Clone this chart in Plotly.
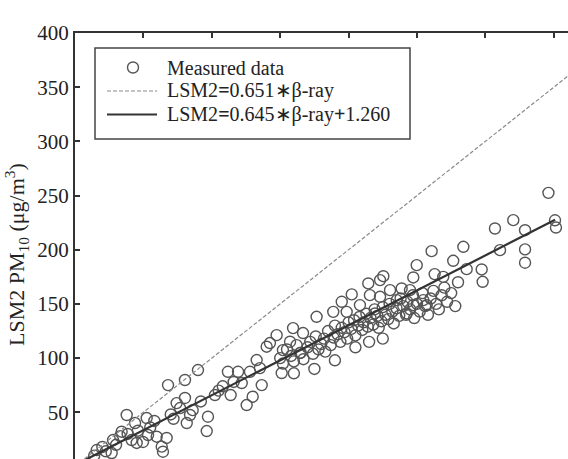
import plotly.graph_objects as go

meas_x = [15.9, 26.8, 27.8, 34.1, 37.8, 43.9, 41.4, 45.1, 52.4, 53.4, 49.7, 59.7, 63.4, 64.3, 67.0,
          68.0, 74.3, 76.8, 80.4, 80.4, 81.7, 84.1, 89.9, 97.2, 96.3, 102.3, 111.8, 113.8, 119.2, 121.9,
          125.5, 129.9, 127.9, 132.8, 136.5, 135.2, 140.1, 142.5, 147.4, 151.1, 152.0, 159.4, 164.5, 166.7, 157.2,
          14.0, 20.0, 22.5, 30.0, 33.0, 38.5, 46.0, 55.0, 58.0, 70.0, 72.0, 86.0, 92.0, 105.0, 108.0, 116.0,
          150, 152, 155, 158, 160, 162, 165, 167, 170, 172, 174, 176, 178, 180, 182, 183, 185, 187, 189, 190,
          192, 194, 195, 197, 199, 200, 202, 204, 205, 207, 208, 210, 211, 213, 214, 216, 218, 219, 221, 222,
          224, 225, 227, 229, 230, 232, 233, 235, 237, 238, 240, 242, 243, 245, 247, 248, 250, 252, 254, 256,
          258, 260, 262, 264, 266, 268, 270, 272, 275, 278, 280, 160, 175, 190, 205, 215, 225,
          346.1, 350.9, 351.6, 329.0, 320.4, 307.0, 310.7, 329.0, 329.0, 297.3, 298.0, 260.7, 283.9, 276.5, 286.3,
          249.8, 262.9, 269.2, 247.3, 225.4, 223.0, 214.4, 230.3, 238.8, 244.9, 202.3, 195.0, 215.6, 208.3, 223.0,
          235.2, 254.6, 257.1, 247.3, 176.6, 188.8, 198.6, 219.3, 242.5]
meas_y = [15.2, 12.4, 24.4, 32.1, 47.5, 40.1, 24.4, 21.7, 44.7, 29.0, 22.6, 27.5, 18.3, 13.6, 26.3,
          75.1, 58.5, 53.9, 79.8, 63.2, 40.1, 47.5, 89.0, 45.9, 32.7, 65.9, 87.4, 65.9, 87.4, 77.0,
          56.7, 64.4, 87.4, 98.2, 75.1, 90.8, 110.5, 113.9, 121.2, 86.2, 107.4, 127.7, 104.6, 123.1, 115.1,
          10.0, 18.0, 14.0, 20.0, 28.0, 30.0, 33.0, 36.0, 42.0, 48.0, 44.0, 52.0, 60.0, 70.0, 74.0, 78.0,
          100, 95, 108, 102, 97, 112, 105, 99, 110, 115, 104, 120, 108, 113, 118, 106, 125, 112, 119, 130,
          122, 115, 128, 124, 118, 133, 127, 135, 121, 130, 138, 126, 133, 141, 129, 137, 131, 145, 139, 128,
          134, 147, 140, 136, 150, 143, 132, 146, 139, 155, 148, 140, 152, 145, 158, 137, 150, 143, 160, 148,
          140, 155, 162, 150, 145, 158, 165, 152, 160, 148, 170, 86, 90, 98, 110, 115, 118,
          252.5, 227.2, 220.5, 218.0, 227.3, 219.6, 199.6, 200.3, 188.0, 181.8, 170.4, 198.7, 202.7, 189.8, 182.1,
          185.8, 177.5, 175.0, 174.4, 175.6, 172.0, 168.9, 162.7, 164.3, 162.7, 158.8, 152.0, 158.1, 148.9, 156.6,
          153.5, 153.5, 148.9, 148.9, 138.1, 142.7, 142.7, 141.2, 141.2]

# Reference line and fitted line
ref_x = [0, 400]
ref_y = [0, 400]
fit_x = [8, 351]
fit_slope = 0.645
fit_intercept = 1.260
fit_y = [fit_slope * v + fit_intercept for v in fit_x]

y_ticks = [50, 100, 150, 200, 250, 300, 350, 400]
x_ticks = [0, 50, 100, 150, 200, 250, 300, 350, 400]

legend_labels = ["Measured data", "LSM2<b>=</b>0.651∗β-ray", "LSM2<b>=</b>0.645∗β-ray<b>+</b>1.260"]

SERIF = "Liberation Serif"
W, H = 568, 459
ML, MT = 75, 33
PW, PH = W - ML, H - MT


def px(xp):
    return (xp - ML) / PW


def py(yp):
    return (H - yp) / PH


MARK_COLOR = "#555555"
DASH_COLOR = "#8a8a8a"
FIT_COLOR = "#333333"

fig = go.Figure()
fig.add_trace(go.Scatter(
    x=meas_x, y=meas_y, mode="markers", name=legend_labels[0],
    marker=dict(symbol="circle-open", size=11, color=MARK_COLOR, line=dict(width=1.4, color=MARK_COLOR)),
))
fig.add_trace(go.Scatter(
    x=ref_x, y=ref_y, mode="lines", name=legend_labels[1],
    line=dict(color=DASH_COLOR, width=1.2, dash="4px,2px"),
))
fig.add_trace(go.Scatter(
    x=fit_x, y=fit_y, mode="lines", name=legend_labels[2],
    line=dict(color=FIT_COLOR, width=2.2),
))

# hand-drawn legend box (matches the reference's wide legend)
row_y = [67.5, 91, 114.5]
shapes = [
    dict(type="rect", xref="paper", yref="paper", x0=px(95), x1=px(410), y0=py(139), y1=py(48),
         line=dict(color="#444444", width=1.5), fillcolor="white", layer="above"),
    dict(type="circle", xref="paper", yref="paper", x0=px(127.5), x1=px(138.5), y0=py(row_y[0] + 5.5),
         y1=py(row_y[0] - 5.5), line=dict(color=MARK_COLOR, width=1.4), layer="above"),
    dict(type="line", xref="paper", yref="paper", x0=px(107), x1=px(157), y0=py(row_y[1]), y1=py(row_y[1]),
         line=dict(color=DASH_COLOR, width=1.2, dash="4px,2px"), layer="above"),
    dict(type="line", xref="paper", yref="paper", x0=px(107), x1=px(157), y0=py(row_y[2]), y1=py(row_y[2]),
         line=dict(color=FIT_COLOR, width=2.2), layer="above"),
]
annotations = [
    dict(text=lab, xref="paper", yref="paper", x=px(166), y=py(ry), xanchor="left", yanchor="middle",
         showarrow=False, borderpad=0, font=dict(family=SERIF, size=20, color="#222222"))
    for lab, ry in zip(legend_labels, row_y)
]
annotations.append(dict(
    text="LSM2 PM<sub>10</sub> (μg/m<sup>3</sup>)", textangle=-90,
    xref="paper", yref="paper", x=px(16), y=py(255), xanchor="center", yanchor="middle",
    showarrow=False, font=dict(family=SERIF, size=22, color="#222222"),
))

fig.update_layout(
    width=W, height=H,
    margin=dict(l=ML, r=0, t=MT, b=0),
    paper_bgcolor="white", plot_bgcolor="white",
    font=dict(family=SERIF, color="#222222"),
    showlegend=False,
    xaxis=dict(
        range=[0, 360.4], side="top", showline=True, linecolor="#333333", linewidth=2,
        ticks="inside", ticklen=5, tickwidth=1.5, tickcolor="#333333",
        tickvals=x_ticks, showticklabels=False, showgrid=False, zeroline=False,
    ),
    yaxis=dict(
        range=[6.9, 400], showline=True, linecolor="#333333", linewidth=2,
        ticks="inside", ticklen=5, tickwidth=1.5, tickcolor="#333333",
        tickvals=y_ticks, ticktext=[str(v) for v in y_ticks],
        tickfont=dict(family=SERIF, size=21, color="#222222"),
        showgrid=False, zeroline=False,
    ),
    shapes=shapes,
    annotations=annotations,
)

fig.write_html("out.html")
